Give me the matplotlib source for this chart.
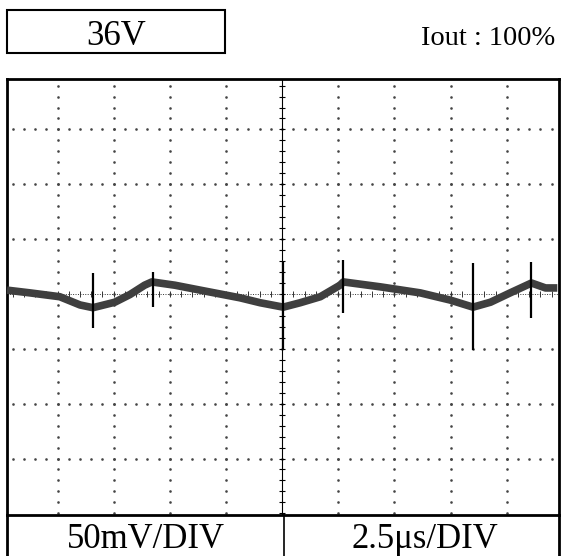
import numpy as np
import matplotlib.pyplot as plt
from matplotlib.patches import Rectangle
from matplotlib.lines import Line2D

# scope trace, in divisions (x: 2.5us/div, y: 50mV/div)
t_div = [-4.90, -4.49, -3.96, -3.60, -3.37, -2.98, -2.71, -2.45, -2.32, -1.91, -1.46,
         -0.75, -0.39, 0.02, 0.32, 0.68, 1.03, 1.09, 1.75, 2.46, 2.99, 3.40, 3.71,
         4.06, 4.44, 4.69, 4.90]
v_div = [0.07, 0.02, -0.05, -0.20, -0.25, -0.15, -0.01, 0.16, 0.22, 0.16, 0.07,
         -0.07, -0.16, -0.24, -0.16, -0.05, 0.16, 0.22, 0.13, 0.02, -0.11, -0.24, -0.15,
         0.02, 0.20, 0.11, 0.11]

# switching spikes
spike_t = [-3.37, -2.30, 0.02, 1.09, 3.40, 4.44]
spike_top = [0.38, 0.40, 0.58, 0.62, 0.57, 0.58]
spike_bot = [-0.62, -0.24, -1.02, -0.35, -1.02, -0.44]

title_box = "36V"
title_right = "Iout : 100%"
volt_label = "50mV/DIV"
time_label = "2.5\u03bcs/DIV"

plt.rcParams['font.family'] = ['Liberation Serif', 'DejaVu Serif']

W, H = 563, 556
fig = plt.figure(figsize=(W / 100, H / 100), dpi=100)
ax = fig.add_axes([7 / W, (H - 515) / H, (559 - 7) / W, (515 - 79) / H])
ax.set_xlim(-4.9, 4.93)
ax.set_ylim(-4.03, 3.92)
ax.set_xticks([])
ax.set_yticks([])
for s in ax.spines.values():
    s.set_linewidth(2)

# dotted graticule, 5 dots per division
fine_y = np.arange(-20, 21) * 0.2
fine_x = np.arange(-25, 26) * 0.2
for gx in range(-4, 5):
    if gx != 0:
        ax.plot([gx] * len(fine_y), fine_y, ls='none', marker='s', ms=0.8, color='#444444')
for gy in range(-3, 4):
    if gy != 0:
        ax.plot(fine_x, [gy] * len(fine_x), ls='none', marker='s', ms=0.8, color='#444444')

# centre axes with tick marks
ax.axvline(0, color='k', lw=0.8)
ax.plot([0] * len(fine_y), fine_y, ls='none', marker='_', ms=4.5, mew=0.8, color='k')
ax.axhline(0, color='#333333', lw=0.7, ls=(0, (1, 1.5)))
ax.plot(fine_x, [0] * len(fine_x), ls='none', marker='|', ms=4, mew=0.7, color='#333333')

# trace
ax.plot(t_div, v_div, color='#3f3f3f', lw=5.5, solid_joinstyle='round',
        solid_capstyle='butt', zorder=3)
ax.vlines(spike_t, spike_bot, spike_top, color='k', lw=1.6, zorder=4)

# header
fig.add_artist(Rectangle((7 / W, (H - 53) / H), (225 - 7) / W, 43 / H,
                         transform=fig.transFigure, fill=False, ec='k', lw=1.5))
fig.text(116 / W, (H - 45) / H, title_box, ha='center', va='baseline', fontsize=25)
fig.text(555 / W, (H - 45) / H, title_right, ha='right', va='baseline', fontsize=20.5)

# bottom label row
for xp, lw in [(7, 2), (559, 2), (284, 1.2)]:
    fig.add_artist(Line2D([xp / W, xp / W], [0, (H - 515) / H],
                          transform=fig.transFigure, color='k', lw=lw))
fig.text(146 / W, 8 / H, volt_label, ha='center', va='baseline', fontsize=25)
fig.text(425 / W, 8 / H, time_label, ha='center', va='baseline', fontsize=25)

fig.savefig('out.png', dpi=100)
